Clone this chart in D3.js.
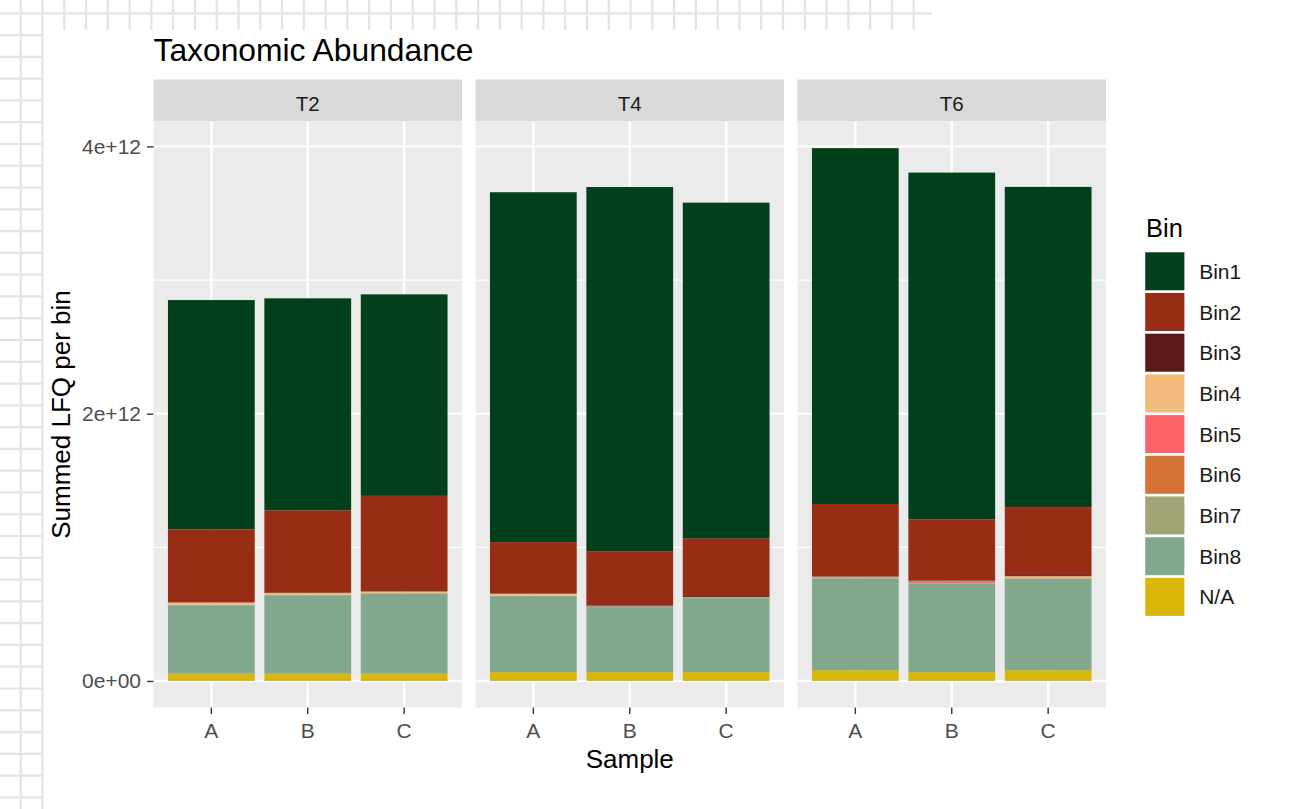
<!DOCTYPE html>
<html>
<head>
<meta charset="utf-8">
<script src="https://cdn.jsdelivr.net/npm/d3@7"></script>
<style>
  html, body { margin: 0; padding: 0; background: #ffffff; }
  svg { display: block; font-family: "Liberation Sans", Arial, sans-serif; }
</style>
</head>
<body>
<svg id="chart" width="1291" height="809"></svg>
<script>
// ---------- data (values in LFQ units) ----------
const timepoints = ["T2", "T4", "T6"];
const samples = ["A", "B", "C"];
const binNames = ["Bin1", "Bin2", "Bin3", "Bin4", "Bin5", "Bin6", "Bin7", "Bin8", "N/A"];
const binColors = ["#02401B", "#972D15", "#5B1A18", "#F1BB7B", "#FD6467", "#D67236", "#A2A475", "#81A88D", "#D8B70A"];
// order of each series: T2-A, T2-B, T2-C, T4-A, T4-B, T4-C, T6-A, T6-B, T6-C
const bin1 = [1.716e12, 1.587e12, 1.508e12, 2.618e12, 2.725e12, 2.514e12, 2.663e12, 2.595e12, 2.396e12];
const bin2 = [0.545e12, 0.616e12, 0.712e12, 0.384e12, 0.407e12, 0.430e12, 0.539e12, 0.457e12, 0.509e12];
const bin3 = [0.002e12, 0.002e12, 0.003e12, 0.003e12, 0.005e12, 0.008e12, 0.004e12, 0.006e12, 0.008e12];
const bin4 = [0.017e12, 0.013e12, 0.013e12, 0.013e12, 0.002e12, 0.003e12, 0.004e12, 0.003e12, 0.015e12];
const bin5 = [0.001e12, 0.001e12, 0.001e12, 0.001e12, 0.001e12, 0.001e12, 0.002e12, 0.012e12, 0.002e12];
const bin6 = [0.001e12, 0.001e12, 0.001e12, 0.001e12, 0.001e12, 0.001e12, 0.001e12, 0.001e12, 0.001e12];
const bin7 = [0.002e12, 0.002e12, 0.002e12, 0.002e12, 0.002e12, 0.002e12, 0.008e12, 0.002e12, 0.003e12];
const bin8 = [0.512e12, 0.587e12, 0.599e12, 0.569e12, 0.487e12, 0.554e12, 0.687e12, 0.662e12, 0.684e12];
const binNA = [0.054e12, 0.054e12, 0.054e12, 0.066e12, 0.066e12, 0.066e12, 0.079e12, 0.066e12, 0.079e12];
const yTickValues = [0, 2e12, 4e12];
const yTickLabels = ["0e+00", "2e+12", "4e+12"];
const chartTitle = "Taxonomic Abundance";
const xTitle = "Sample";
const yTitle = "Summed LFQ per bin";
const legendTitle = "Bin";

// ---------- build table ----------
const series = [bin1, bin2, bin3, bin4, bin5, bin6, bin7, bin8, binNA];
const rows = [];
timepoints.forEach((t, ti) => {
  samples.forEach((s, si) => {
    const idx = ti * samples.length + si;
    const row = { time: t, sample: s };
    binNames.forEach((b, bi) => { row[b] = series[bi][idx]; });
    rows.push(row);
  });
});
const stackKeys = binNames.slice().reverse(); // bottom: N/A ... top: Bin1
const stacked = d3.stack().keys(stackKeys)(rows);
const color = d3.scaleOrdinal().domain(binNames).range(binColors);
const maxTotal = d3.max(rows, r => d3.sum(binNames, b => r[b]));

// ---------- layout ----------
const svg = d3.select("#chart");
const W = 1291, H = 809;
const panelTop = 121.5, panelBottom = 707.6;
const stripTop = 79.5;
const facetLeft = 153.5, facetRight = 1106;

// page background (document grid paper)
svg.append("rect").attr("width", W).attr("height", H).attr("fill", "#ffffff");
const bg = svg.append("g").attr("stroke", "#e3e3e3").attr("stroke-width", 2.2);
const gridStep = 21.78;
for (let x = 20.7; x < 935; x += gridStep) {
  bg.append("line").attr("x1", x).attr("x2", x).attr("y1", 0).attr("y2", x < 43 ? H : 30);
}
for (let y = 13.3; y < H; y += gridStep) {
  bg.append("line").attr("x1", 0).attr("x2", y < 30 ? 932 : 42).attr("y1", y).attr("y2", y);
}

// scales
const fx = d3.scaleBand().domain(timepoints).range([facetLeft, facetRight]).paddingInner(13.5 / 322).paddingOuter(0);
const x = d3.scaleBand().domain(samples).range([0, fx.bandwidth()]).paddingInner(0.1).paddingOuter(0.15);
const y = d3.scaleLinear().domain([-0.05 * maxTotal, 1.05 * maxTotal]).range([panelBottom, panelTop]);

// title
svg.append("text").attr("x", 153.5).attr("y", 61).attr("font-size", 31.8).attr("fill", "#000").text(chartTitle);

// panels
timepoints.forEach(t => {
  const g = svg.append("g").attr("transform", `translate(${fx(t)},0)`);
  // strip
  g.append("rect").attr("x", 0).attr("y", stripTop).attr("width", fx.bandwidth()).attr("height", panelTop - stripTop).attr("fill", "#d9d9d9");
  g.append("text").attr("x", fx.bandwidth() / 2).attr("y", 111).attr("text-anchor", "middle")
    .attr("font-size", 20.5).attr("fill", "#1a1a1a").text(t);
  // panel bg
  g.append("rect").attr("x", 0).attr("y", panelTop).attr("width", fx.bandwidth()).attr("height", panelBottom - panelTop).attr("fill", "#ebebeb");
  // minor grid
  const minor = [1e12, 3e12];
  g.selectAll(".minor").data(minor).join("line")
    .attr("x1", 0).attr("x2", fx.bandwidth()).attr("y1", d => y(d)).attr("y2", d => y(d))
    .attr("stroke", "#ffffff").attr("stroke-width", 1.2);
  // major grid
  g.selectAll(".majorY").data(yTickValues).join("line")
    .attr("x1", 0).attr("x2", fx.bandwidth()).attr("y1", d => y(d)).attr("y2", d => y(d))
    .attr("stroke", "#ffffff").attr("stroke-width", 2.4);
  g.selectAll(".majorX").data(samples).join("line")
    .attr("x1", d => x(d) + x.bandwidth() / 2).attr("x2", d => x(d) + x.bandwidth() / 2)
    .attr("y1", panelTop).attr("y2", panelBottom)
    .attr("stroke", "#ffffff").attr("stroke-width", 2.4);
  // bars
  stacked.forEach(layer => {
    g.append("g").attr("fill", color(layer.key))
      .selectAll("rect").data(layer.filter(d => d.data.time === t)).join("rect")
      .attr("x", d => x(d.data.sample))
      .attr("width", x.bandwidth())
      .attr("y", d => y(d[1]))
      .attr("height", d => Math.max(0, y(d[0]) - y(d[1])));
  });
  // x axis
  const xa = g.append("g").attr("transform", `translate(0,${panelBottom})`)
    .call(d3.axisBottom(x).tickSize(6.5).tickPadding(8));
  xa.select(".domain").remove();
  xa.selectAll(".tick line").attr("stroke", "#333333").attr("stroke-width", 1.4);
  xa.selectAll(".tick text").attr("font-size", 21).attr("fill", "#4d4d4d")
    .attr("font-family", "'Liberation Sans', Arial, sans-serif").attr("dy", 0).attr("y", 30.5);
});

// y axis
const ya = svg.append("g").attr("transform", `translate(${facetLeft},0)`)
  .call(d3.axisLeft(y).tickValues(yTickValues).tickFormat((d, i) => yTickLabels[i]).tickSize(6.5).tickPadding(6));
ya.select(".domain").remove();
ya.selectAll(".tick line").attr("stroke", "#333333").attr("stroke-width", 1.4);
ya.selectAll(".tick text").attr("font-size", 21).attr("fill", "#4d4d4d")
  .attr("font-family", "'Liberation Sans', Arial, sans-serif");

// axis titles
svg.append("text").attr("x", (facetLeft + facetRight) / 2).attr("y", 768).attr("text-anchor", "middle")
  .attr("font-size", 26).attr("fill", "#000").text(xTitle);
svg.append("text").attr("transform", `translate(70,${(panelTop + panelBottom) / 2}) rotate(-90)`)
  .attr("text-anchor", "middle").attr("font-size", 26).attr("fill", "#000").text(yTitle);

// legend
const lg = svg.append("g");
lg.append("text").attr("x", 1146).attr("y", 236.5).attr("font-size", 25.5).attr("fill", "#000").text(legendTitle);
const keyTop = 252.3, keyStep = 40.7;
const items = lg.selectAll(".item").data(binNames).join("g")
  .attr("transform", (d, i) => `translate(1145.2,${keyTop + i * keyStep})`);
items.append("rect").attr("width", 39.2).attr("height", 38).attr("fill", d => color(d));
items.append("text").attr("x", 54).attr("y", 19 + 7.6).attr("font-size", 21).attr("fill", "#1a1a1a").text(d => d);
</script>
</body>
</html>
